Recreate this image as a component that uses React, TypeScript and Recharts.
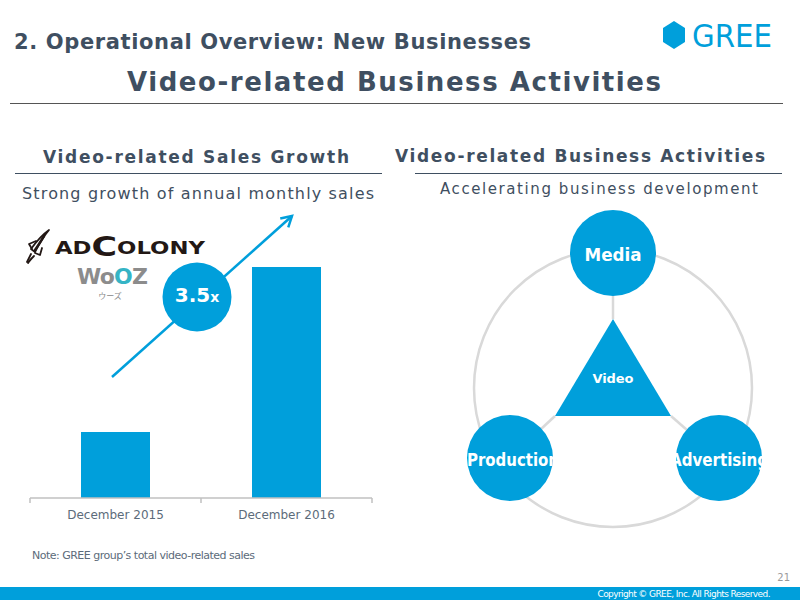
import React from 'react';
import { BarChart, Bar, XAxis, YAxis } from 'recharts';

// video-related sales, Dec 2015 indexed to 1
const categories = ['December 2015', 'December 2016'];
const salesIndex = [1, 3.5];
const activities = ['Media', 'Production', 'Advertising'];
const coreActivity = 'Video';

const BLUE = '#009fdb';
const DARK = '#3f4f61';
const MID = '#5c6b7a';
const RING = '#d9d9d9';
const FONT = '"DejaVu Sans", Verdana, sans-serif';

const data = categories.map((name, i) => ({ name, value: salesIndex[i] }));
const growth = (salesIndex[salesIndex.length - 1] / salesIndex[0]).toFixed(1);

// bar chart plot area (chart sits at page origin)
const PLOT = { left: 30, right: 372, top: 267, bottom: 498 };
const CHART_W = 400;
const CHART_H = 600;

// ring diagram layout
const RING_C = { x: 613, y: 388, r: 139 };
const NODE_R = 43;
const nodePos = [
  { x: 613, y: 253 },
  { x: 510, y: 458 },
  { x: 719, y: 458 },
];
const labelFit = [
  { w: 57, dx: 0 },
  { w: 92, dx: 3 },
  { w: 98, dx: 0 },
];
const tri = { apex: { x: 613, y: 319 }, left: { x: 555, y: 416 }, right: { x: 671, y: 416 } };

const arrowHead = (x1: number, y1: number, x2: number, y2: number, len: number) => {
  const a = Math.atan2(y1 - y2, x1 - x2);
  const s = Math.PI / 6;
  const p1 = [x2 + len * Math.cos(a + s), y2 + len * Math.sin(a + s)];
  const p2 = [x2 + len * Math.cos(a - s), y2 + len * Math.sin(a - s)];
  return `M${p1[0]},${p1[1]} L${x2},${y2} L${p2[0]},${p2[1]}`;
};

const Overlay = () => {
  const band = (PLOT.right - PLOT.left) / categories.length;
  const arrow = { x1: 112, y1: 377, x2: 292, y2: 216 };
  return (
    <svg
      width={800}
      height={600}
      style={{ position: 'absolute', left: 0, top: 0, pointerEvents: 'none' }}
      fontFamily={FONT}
    >
      <defs>
        {nodePos.map((p, i) => (
          <clipPath id={`node-clip-${i}`} key={i}>
            <rect x={p.x - NODE_R} y={p.y - NODE_R} width={NODE_R * 2} height={NODE_R * 2} />
          </clipPath>
        ))}
      </defs>

      {/* page header */}
      <text x={14} y={49} fontSize={21} fontWeight="bold" fill={DARK} textLength={517}>
        2. Operational Overview: New Businesses
      </text>
      <polygon points="674,21 685,28 685,42 674,49 663,42 663,28" fill={BLUE} />
      <text
        x={692}
        y={47}
        fontSize={32}
        fill={BLUE}
        fontFamily='"DejaVu Sans Condensed", "DejaVu Sans", sans-serif'
        textLength={80}
        lengthAdjust="spacingAndGlyphs"
      >
        GREE
      </text>
      <text x={394} y={91} fontSize={26} fontWeight="bold" fill={DARK} textAnchor="middle" textLength={534}>
        Video-related Business Activities
      </text>
      <line x1={10} x2={783} y1={103.5} y2={103.5} stroke="#555" strokeWidth={1} />

      {/* left panel heading */}
      <text x={196} y={163} fontSize={17} fontWeight="bold" fill={DARK} textAnchor="middle" textLength={306}>
        Video-related Sales Growth
      </text>
      <line x1={15} x2={382} y1={173.5} y2={173.5} stroke={DARK} strokeWidth={1} />
      <text x={198} y={199} fontSize={16} fill={DARK} textAnchor="middle" textLength={352}>
        Strong growth of annual monthly sales
      </text>

      {/* right panel heading */}
      <text x={580} y={162} fontSize={17} fontWeight="bold" fill={DARK} textAnchor="middle" textLength={370}>
        Video-related Business Activities
      </text>
      <line x1={415} x2={782} y1={173.5} y2={173.5} stroke={DARK} strokeWidth={1} />
      <text x={599} y={194} fontSize={15} fill={DARK} textAnchor="middle" textLength={318}>
        Accelerating business development
      </text>

      {/* AdColony mark */}
      <g stroke="#231815" fill="none" strokeWidth={1.8} strokeLinecap="round" strokeLinejoin="round">
        <path d="M49,230 C44,236 39,244 35,252 L31,249 C36,242 42,235 49,230 Z" />
        <path d="M44,236 C41,241 38,246 35,250" strokeWidth={2.5} />
        <path d="M36,241 L29,244 L32,249" />
        <path d="M42,248 L40,255 L35,253" />
        <path d="M31,254 L27,262" />
        <path d="M34,256 C31,259 29,261 28,263" />
      </g>
      <text
        x={55}
        y={254}
        fontSize={17}
        fontWeight="bold"
        fill="#231815"
        textLength={150}
        lengthAdjust="spacingAndGlyphs"
      >
        AD<tspan fontSize={26} dy={2}>C</tspan>
        <tspan dy={-2}>OLONY</tspan>
      </text>

      {/* WoOZ mark */}
      <text x={77} y={284} fontSize={22} fontWeight="bold" fill="#8c8c8c" textLength={71}>
        Wo<tspan fill="#35b4c5">O</tspan>Z
      </text>
      <text
        x={110}
        y={299}
        fontSize={8}
        fill="#888"
        textAnchor="middle"
        fontFamily='"Noto Sans CJK JP", sans-serif'
      >
        ウーズ
      </text>

      {/* growth arrow and multiple */}
      <line x1={arrow.x1} y1={arrow.y1} x2={arrow.x2} y2={arrow.y2} stroke={BLUE} strokeWidth={2.5} />
      <path
        d={arrowHead(arrow.x1, arrow.y1, arrow.x2, arrow.y2, 12)}
        stroke={BLUE}
        strokeWidth={2.5}
        fill="none"
      />
      <circle cx={197} cy={297} r={34.5} fill={BLUE} />
      <text x={197} y={302} fontSize={20} fontWeight="bold" fill="#fff" textAnchor="middle">
        {growth}
        <tspan fontSize={14}>x</tspan>
      </text>

      {/* category boundary ticks */}
      {categories.concat(['']).map((_, i) => {
        const x = PLOT.left + i * band;
        return <line key={i} x1={x} x2={x} y1={PLOT.bottom} y2={PLOT.bottom + 5} stroke="#c0c0c0" strokeWidth={1.5} />;
      })}

      <text x={32} y={559} fontSize={11} fill={MID} textLength={223}>
        Note: GREE group’s total video-related sales
      </text>

      {/* ring diagram */}
      <circle cx={RING_C.x} cy={RING_C.y} r={RING_C.r} fill="none" stroke={RING} strokeWidth={2.5} />
      <g stroke={RING} strokeWidth={2.5}>
        <line x1={nodePos[0].x} y1={nodePos[0].y} x2={tri.apex.x} y2={tri.apex.y} />
        <line x1={tri.left.x} y1={tri.left.y} x2={nodePos[1].x} y2={nodePos[1].y} />
        <line x1={tri.right.x} y1={tri.right.y} x2={nodePos[2].x} y2={nodePos[2].y} />
      </g>
      <polygon
        points={`${tri.apex.x},${tri.apex.y} ${tri.left.x},${tri.left.y} ${tri.right.x},${tri.right.y}`}
        fill={BLUE}
      />
      <text x={613} y={383} fontSize={13} fontWeight="bold" fill="#fff" textAnchor="middle" textLength={41}>
        {coreActivity}
      </text>
      {activities.map((name, i) => (
        <g key={name}>
          <circle cx={nodePos[i].x} cy={nodePos[i].y} r={NODE_R} fill={BLUE} />
          <text
            x={nodePos[i].x + labelFit[i].dx}
            y={nodePos[i].y + 8}
            fontSize={i === 0 ? 17 : 18}
            fontWeight="bold"
            fill="#fff"
            textAnchor="middle"
            textLength={labelFit[i].w}
            lengthAdjust="spacingAndGlyphs"
            clipPath={`url(#node-clip-${i})`}
          >
            {name}
          </text>
        </g>
      ))}

      {/* footer */}
      <text x={790} y={581} fontSize={10} fill="#9a9a9a" textAnchor="end">21</text>
      <rect x={0} y={587} width={800} height={13} fill={BLUE} />
      <text x={684} y={597} fontSize={9} fill="#fff" textAnchor="middle" textLength={173}>
        Copyright © GREE, Inc. All Rights Reserved.
      </text>
    </svg>
  );
};

export default function App() {
  return (
    <div style={{ position: 'relative', width: 800, height: 600, background: '#fff', overflow: 'hidden' }}>
      <style>{'body{margin:0}'}</style>
      <div style={{ position: 'absolute', left: 0, top: 0 }}>
        <BarChart
          width={CHART_W}
          height={CHART_H}
          data={data}
          margin={{ top: PLOT.top, left: PLOT.left, right: CHART_W - PLOT.right, bottom: CHART_H - PLOT.bottom - 30 }}
        >
          <XAxis
            dataKey="name"
            height={30}
            tickLine={false}
            tickMargin={6}
            axisLine={{ stroke: '#c0c0c0', strokeWidth: 1.5 }}
            tick={{ fontSize: 12, fill: MID, fontFamily: FONT }}
            interval={0}
          />
          <YAxis hide width={0} domain={[0, 3.5]} />
          <Bar dataKey="value" fill={BLUE} barSize={69} isAnimationActive={false} />
        </BarChart>
      </div>
      <Overlay />
    </div>
  );
}
